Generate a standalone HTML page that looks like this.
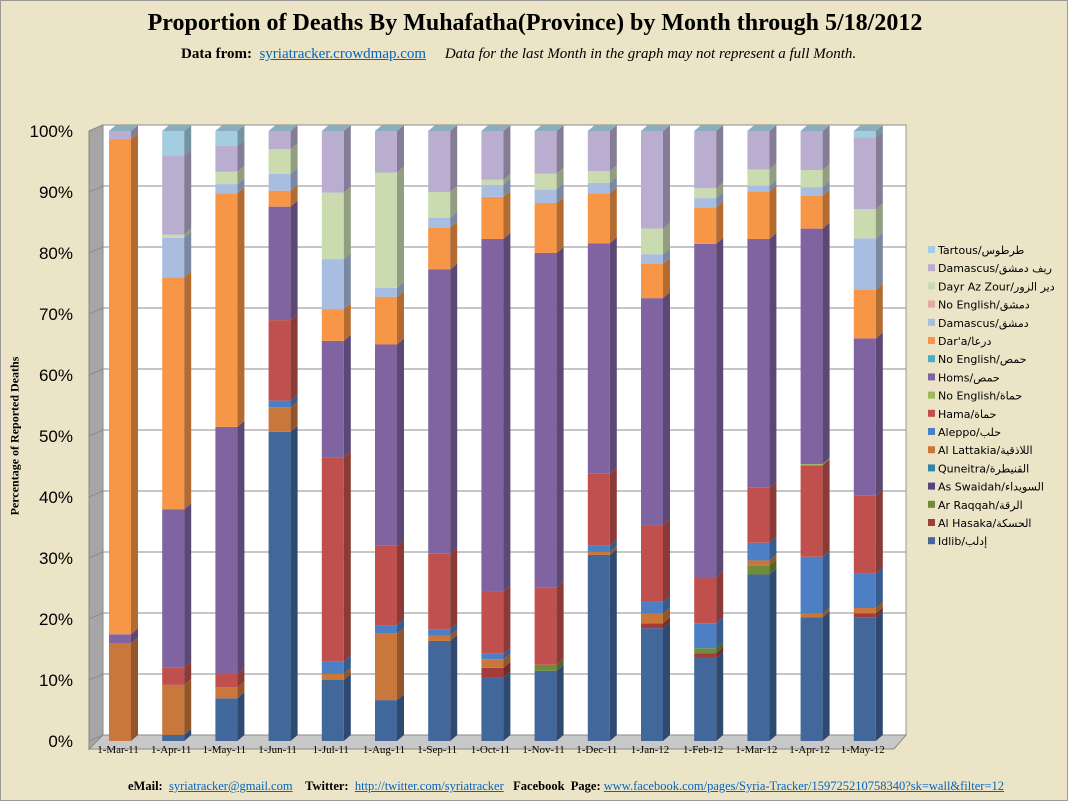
<!DOCTYPE html>
<html><head><meta charset="utf-8"><style>
body{margin:0;background:#fff;}
#wrap{position:relative;width:1066px;height:799px;border:1px solid #9a9a9a;background:#ebe4c6;overflow:hidden;font-family:"Liberation Serif",serif;}
.t{position:absolute;white-space:nowrap;}
a{color:#0563c1;text-decoration:underline;}
</style></head><body>
<div id="wrap">
<div class="t" style="left:0;width:1068px;text-align:center;top:9px;font-size:24px;font-weight:bold;">Proportion of Deaths By Muhafatha(Province) by Month through 5/18/2012</div>
<div class="t" style="left:180px;top:45px;font-size:15px;"><b>Data from:</b>&nbsp; <a>syriatracker.crowdmap.com</a> &nbsp;&nbsp;&nbsp; <i>Data for the last Month in the graph may not represent a full Month.</i></div>
<div class="t" style="left:14px;top:435px;font-size:12px;font-weight:bold;transform:translate(-50%,-50%) rotate(-90deg);">Percentage of Reported Deaths</div>
<svg id="svg" width="1068" height="801" style="position:absolute;left:0;top:0"></svg>
<div class="t" style="left:127px;top:778px;font-size:12.5px;"><b>eMail:</b>&nbsp; <a>syriatracker@gmail.com</a> &nbsp;&nbsp; <b>Twitter:</b>&nbsp; <a>http://twitter.com/syriatracker</a> &nbsp; <b>Facebook&nbsp; Page:</b> <a>www.facebook.com/pages/Syria-Tracker/159725210758340?sk=wall&amp;filter=12</a></div>
</div>
<script>
const months=["1-Mar-11","1-Apr-11","1-May-11","1-Jun-11","1-Jul-11","1-Aug-11","1-Sep-11","1-Oct-11","1-Nov-11","1-Dec-11","1-Jan-12","1-Feb-12","1-Mar-12","1-Apr-12","1-May-12"];
const seriesNames=["Idlib/إدلب","Al Hasaka/الحسكة","Ar Raqqah/الرقة","As Swaidah/السويداء","Quneitra/القنيطرة","Al Lattakia/اللاذقية","Aleppo/حلب","Hama/حماة","No English/حماة","Homs/حمص","No English/حمص","Dar'a/درعا","Damascus/دمشق","No English/دمشق","Dayr Az Zour/دير الزور","Damascus/ريف دمشق","Tartous/طرطوس"];
const seriesColors=["#41679b","#a33c3a","#6f8c3a","#5b4480","#2f87a3","#c9773a","#4d7fc4","#c0504d","#9bbb59","#8064a2","#4bacc6","#f79646","#a9bde0","#e3a9a8","#cadbb0","#b9aed0","#a3cde0"];
const idlib=[0,1,7,50.7,10,6.7,16.4,10.4,11.5,30.5,18.5,13.6,27.3,20.3,20.3];
const hasaka=[0,0,0,0,0,0,0,1.6,0,0,0.8,0.8,0,0,0.6];
const raqqah=[0,0,0,0,0,0,0,0,1,0,0,0.8,1.5,0,0];
const swaidah=[0,0,0,0,0,0,0,0,0,0,0,0,0,0,0];
const quneitra=[0,0,0,0,0,0,0,0,0,0,0,0,0,0,0];
const lattakia=[16,8.2,1.8,4,1,10.9,0.9,1.4,0,0.5,1.6,0,0.8,0.6,0.9];
const aleppo=[0,0,0,1.1,2,1.4,1,0.9,0,1,1.9,4.1,2.9,9.3,5.6];
const hama=[0,2.8,2.2,13.2,33.5,13,12.4,10.2,12.7,11.8,12.6,7.5,9,15,12.8];
const hamaNoEng=[0,0,0,0,0,0,0,0,0,0,0,0,0,0.2,0];
const homs=[1.5,26,40.5,18.6,19.1,33,46.6,57.8,54.8,37.8,37.2,54.7,40.8,38.6,25.8];
const homsNoEng=[0,0,0,0,0,0,0,0,0,0,0,0,0,0,0];
const daraa=[81.2,38,38.3,2.6,5.2,7.8,6.9,6.9,8.2,8.2,5.6,6,7.8,5.4,8];
const damascus=[0,6.5,1.5,2.8,8.2,1.5,1.6,2,2.2,1.7,1.6,1.5,0.9,1.4,8.4];
const damNoEng=[0,0,0,0,0,0,0,0,0,0,0,0,0,0,0];
const dayr=[0,0.5,2,4,10.9,18.9,4.2,0.8,2.6,1.9,4.2,1.6,2.7,2.8,4.8];
const rif=[1.3,13,4.3,3,10.1,6.8,10,8,7,6.6,16,9.4,6.3,6.4,11.8];
const tartous=[0,4,2.4,0,0,0,0,0,0,0,0,0,0,0,1];
const seriesValues=[idlib,hasaka,raqqah,swaidah,quneitra,lattakia,aleppo,hama,hamaNoEng,homs,homsNoEng,daraa,damascus,damNoEng,dayr,rif,tartous];
const yTicks=[0,10,20,30,40,50,60,70,80,90,100];

const svg=document.getElementById('svg');
const NS="http://www.w3.org/2000/svg";
const DX=7,DY=-6,Y0=740,PX=6.1,X0=108,STEP=53.2,BW=22;
const y=v=>Y0-v*PX;
const x=i=>X0+i*STEP;
function el(tag,attrs,parent){const e=document.createElementNS(NS,tag);for(const k in attrs)e.setAttribute(k,attrs[k]);(parent||svg).appendChild(e);return e;}
function shade(hex,f){const n=parseInt(hex.slice(1),16);let r=n>>16,g=(n>>8)&255,b=n&255;r=Math.round(r*f);g=Math.round(g*f);b=Math.round(b*f);return `rgb(${Math.min(r,255)},${Math.min(g,255)},${Math.min(b,255)})`;}
const back=el('polygon',{points:`${95+DX},${y(100)+DY} 905,${y(100)+DY} 905,${Y0+DY} ${95+DX},${Y0+DY}`,fill:'#fff',stroke:'#999'});

const side=el('polygon',{points:`88,${y(100)} ${88+DX+7},${y(100)+DY} ${88+DX+7},${Y0+DY} 88,${Y0+8}`,fill:'#a6a6a6',stroke:'#888'});

const floor=el('polygon',{points:`88,${Y0+8} ${102},${Y0+DY} 905,${Y0+DY} 893,${Y0+8}`,fill:'#c8c8c8',stroke:'#888'});

yTicks.forEach(t=>{
  const g=el('line',{x1:102,x2:905,y1:y(t)+DY,y2:y(t)+DY,stroke:'#8c8c8c','stroke-width':1});
  
  const s=el('line',{x1:88,x2:102,y1:y(t),y2:y(t)+DY,stroke:'#8c8c8c'});
  
  const tx=el('text',{x:72,y:y(t)+6,'text-anchor':'end','font-size':17,'font-family':'Liberation Sans, sans-serif'});
  tx.textContent=t+'%';
  
});
months.forEach((m,i)=>{
  let acc=0;const x0=x(i);
  seriesValues.forEach((arr,s)=>{
    const v=arr[i];if(!v)return;
    const yb=y(acc),yt=y(acc+v);acc+=v;
    const c=seriesColors[s];
    const g=el('g',{});
    
    el('rect',{x:x0,y:yt,width:BW,height:yb-yt,fill:c},g);
    el('polygon',{points:`${x0+BW},${yb} ${x0+BW+DX},${yb+DY} ${x0+BW+DX},${yt+DY} ${x0+BW},${yt}`,fill:shade(c,0.72)},g);
  });
  const top=y(acc);
  const cap=el('polygon',{points:`${x0},${top} ${x0+DX},${top+DY} ${x0+BW+DX},${top+DY} ${x0+BW},${top}`,fill:shade(seriesColors[16],0.85)});
  
  const lb=el('text',{x:x0+BW/2-2,y:Y0+12,'text-anchor':'middle','font-size':11});
  lb.textContent=m;
  
});
for(let k=16;k>=0;k--){
  const yy=249+(16-k)*18.2;
  const g=el('g',{});
  
  el('rect',{x:927,y:yy-4,width:7,height:7,fill:seriesColors[k]},g);
  const t=el('text',{x:937,y:yy+4,'font-size':11,'font-family':'DejaVu Sans, sans-serif'},g);
  t.textContent=seriesNames[k];
}
</script>
</body></html>
